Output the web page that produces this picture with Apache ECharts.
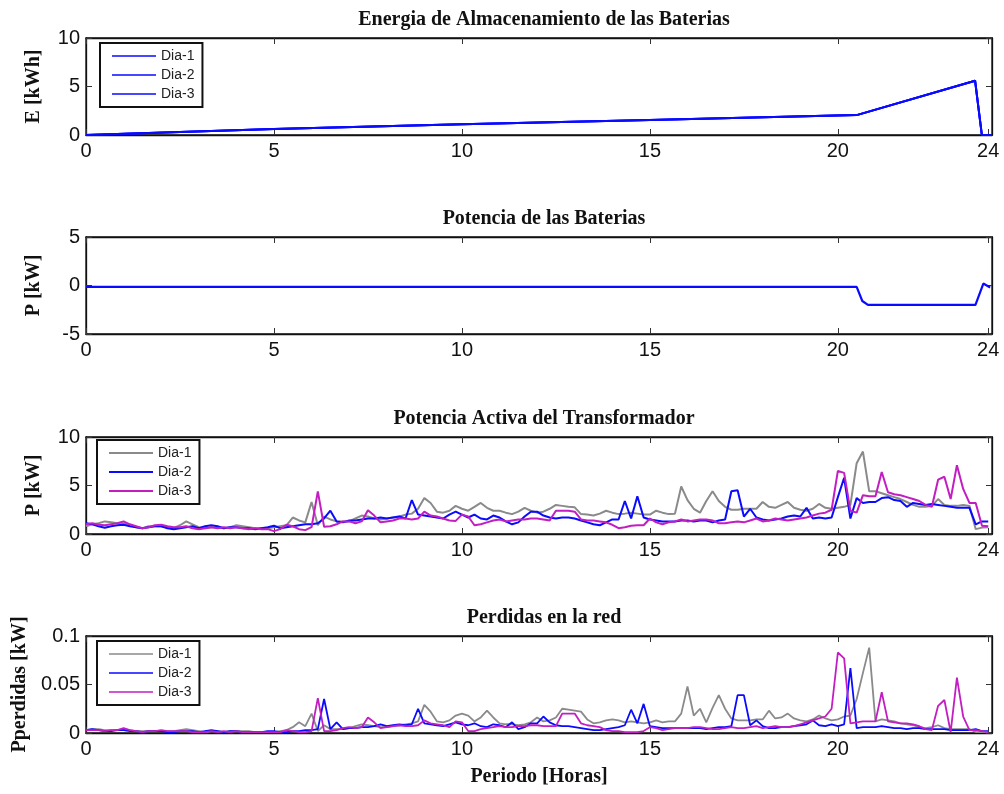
<!DOCTYPE html>
<html><head><meta charset="utf-8">
<script src="https://cdn.jsdelivr.net/npm/echarts@6/dist/echarts.min.js"></script>
<style>html,body{margin:0;padding:0;background:#fff}#c{width:1004px;height:794px}</style>
</head><body><div id="c"></div><script>
// ---- data ----
const xTicks = [0, 5, 10, 15, 20, 24];
const seriesNames = ['Dia-1', 'Dia-2', 'Dia-3'];
// Battery energy (same for the three days)
const eHours = [0, 5, 10, 15, 20.5, 23.65, 23.83, 24.1];
const eValues = [0, 0.62, 1.1, 1.55, 2.05, 5.6, 0, 0];
// Battery power
const pHours = [0, 20.5, 20.65, 20.8, 23.66, 23.87, 24.05];
const pValues = [-0.15, -0.15, -1.6, -2.0, -2.0, 0.2, -0.2];
// 10-minute time grid (hours)
const hours = Array.from({length: 145}, (_, i) => i / 6);
// Transformer active power [kW]
const trafoDia1 = [
 0.8,1.0,1.1,1.3,1.2,1.1, 1.1,0.9,0.7,0.6,0.8,0.8, 0.8,0.7,0.6,0.9,1.3,1.0, 0.7,0.6,0.7,0.7,0.6,0.7,
 0.9,0.8,0.7,0.6,0.6,0.6, 0.7,0.8,0.9,1.7,1.4,1.2, 3.3,0.9,1.8,1.5,1.3,1.3, 1.3,1.6,1.9,1.8,1.6,1.5,
 1.6,1.7,1.8,2.0,2.1,2.6, 3.7,3.2,2.3,2.2,2.4,2.9, 2.6,2.4,2.8,3.2,2.7,2.4, 2.4,2.2,2.05,2.3,2.7,2.4,
 2.2,2.3,2.6,3.0,2.9,2.8, 2.75,2.05,2.0,1.9,2.1,2.4, 2.2,2.05,2.1,2.2,2.1,2.0, 2.0,2.4,2.2,2.05,2.1,4.9,
 3.5,2.6,2.2,3.4,4.4,3.4, 2.8,2.5,2.5,2.6,2.6,2.6, 3.3,2.8,2.7,3.0,3.3,2.7, 2.5,2.4,2.6,3.1,2.7,2.6,
 2.7,2.8,3.0,7.3,8.5,4.4, 4.4,4.2,4.0,3.8,3.6,3.3, 3.0,2.8,2.8,2.9,3.6,3.0, 2.9,2.9,3.0,2.9,0.5,0.66,
 0.7];
const trafoDia2 = [
 1.1,1.0,0.8,0.65,0.8,0.9, 0.95,0.8,0.7,0.6,0.7,0.8, 0.8,0.6,0.5,0.6,0.7,0.8, 0.6,0.8,0.9,0.8,0.6,0.7,
 0.7,0.6,0.6,0.5,0.6,0.7, 0.85,0.6,0.7,0.8,0.9,1.0, 1.0,1.1,1.6,2.4,1.3,1.2, 1.4,1.4,1.5,1.6,1.6,1.7,
 1.6,1.7,1.8,1.6,3.5,2.0, 1.9,1.8,1.7,1.6,2.0,2.3, 2.0,1.7,2.0,1.6,1.5,1.9, 1.7,1.3,1.0,1.2,1.8,2.3,
 2.3,1.9,1.7,1.6,1.7,1.7, 1.6,1.4,1.2,1.0,0.9,1.2, 1.5,1.5,3.4,1.6,3.9,1.7, 1.5,1.4,1.3,1.3,1.3,1.4,
 1.4,1.3,1.4,1.4,1.2,1.4, 1.5,4.4,4.5,1.8,2.6,1.7, 1.5,1.4,1.5,1.6,1.8,1.9, 1.8,2.7,1.6,1.7,1.6,1.7,
 3.8,5.8,1.6,3.7,3.2,3.3, 3.3,3.7,3.8,3.5,3.4,2.8, 3.2,3.1,3.0,3.1,3.0,2.9, 2.8,2.7,2.7,2.7,1.0,1.3,
 1.3];
const trafoDia3 = [
 1.0,1.1,0.95,0.9,1.0,1.1, 1.3,1.0,0.8,0.6,0.7,0.9, 0.95,0.8,0.7,0.7,0.8,0.6, 0.5,0.6,0.7,0.6,0.7,0.6,
 0.7,0.6,0.5,0.6,0.5,0.5, 0.3,0.5,0.95,0.8,0.5,0.4, 0.7,4.4,0.75,0.8,1.0,1.3, 1.3,1.1,1.3,2.45,1.9,1.2,
 1.3,1.4,1.6,1.6,1.5,1.6, 2.3,1.9,1.8,1.6,1.4,1.35, 2.0,1.8,0.9,1.0,1.2,1.4, 1.5,1.3,1.4,1.5,1.5,1.6,
 1.6,1.5,1.4,2.4,2.4,2.4, 2.3,1.5,1.4,1.4,1.3,1.2, 0.95,0.6,0.7,0.85,0.9,0.9, 1.6,1.2,1.0,1.2,1.3,1.5,
 1.3,1.4,1.5,1.5,1.4,1.1, 1.1,1.2,1.3,1.2,1.4,1.6, 1.3,1.4,1.6,1.5,1.4,1.5, 1.6,1.7,1.9,2.1,2.2,2.5,
 6.5,6.3,2.4,2.2,4.0,3.9, 3.9,6.4,4.3,4.1,4.0,3.8, 3.6,3.4,3.0,2.8,5.6,5.9, 3.6,7.1,4.65,3.2,3.2,0.85,
 0.8];
// Network losses [kW]
const lossDia1 = [
 .003,.004,.004,.003,.003,.003, .004,.003,.002,.002,.002,.002, .002,.002,.002,.003,.004,.003, .002,.001,.002,.002,.001,.002,
 .002,.002,.002,.001,.001,.001, .001,.002,.003,.006,.011,.007, .02,.002,.008,.004,.004,.004, .005,.007,.009,.008,.007,.006,
 .006,.007,.008,.009,.01,.012, .029,.022,.012,.011,.013,.018, .02,.018,.012,.016,.023,.016, .01,.009,.009,.008,.009,.011,
 .016,.012,.013,.016,.025,.024, .023,.022,.014,.01,.011,.013, .014,.013,.011,.012,.011,.01, .011,.013,.011,.012,.012,.02,
 .048,.018,.025,.011,.026,.039, .025,.015,.013,.013,.013,.014, .014,.023,.015,.016,.02,.015, .013,.012,.014,.018,.015,.013,
 .014,.017,.018,.035,.062,.088, .012,.014,.013,.012,.01,.009, .008,.006,.005,.006,.008,.005, .004,.004,.004,.004,.001,.001,
 .001];
const lossDia2 = [
 .003,.004,.003,.002,.002,.003, .003,.002,.002,.001,.002,.002, .002,.001,.001,.002,.002,.002, .001,.002,.003,.002,.001,.002,
 .002,.001,.001,.001,.001,.002, .002,.001,.001,.002,.002,.003, .003,.004,.035,.004,.011,.004, .005,.005,.006,.006,.007,.009,
 .007,.008,.009,.008,.009,.025, .01,.009,.008,.007,.009,.011, .009,.008,.01,.007,.006,.009, .008,.006,.011,.004,.006,.01,
 .01,.017,.011,.008,.007,.007, .006,.005,.004,.003,.003,.004, .005,.006,.008,.024,.01,.03, .007,.006,.005,.005,.005,.005,
 .005,.005,.005,.004,.005,.006, .006,.007,.039,.039,.008,.013, .007,.005,.005,.006,.006,.007, .008,.009,.013,.008,.007,.009,
 .007,.009,.067,.005,.006,.006, .006,.007,.006,.005,.005,.004, .005,.005,.004,.004,.004,.004, .003,.003,.003,.003,.004,.002,
 .002];
const lossDia3 = [
 .003,.003,.003,.002,.003,.003, .005,.003,.002,.001,.002,.002, .003,.002,.002,.002,.002,.001, .001,.001,.002,.001,.002,.001,
 .002,.001,.001,.001,.001,.001, .001,.001,.003,.002,.001,.001, .002,.036,.002,.002,.003,.005, .006,.005,.006,.016,.011,.005,
 .006,.007,.008,.007,.007,.008, .013,.01,.009,.008,.006,.012, .011,.002,.002,.004,.005,.006, .007,.006,.006,.007,.007,.008,
 .008,.007,.007,.007,.02,.02, .02,.01,.008,.007,.006,.003, .002,.002,.001,.001,.001,.002, .006,.005,.003,.004,.005,.005,
 .005,.006,.006,.005,.004,.004, .005,.006,.005,.005,.006,.007, .005,.006,.007,.006,.006,.007, .009,.011,.013,.015,.017,.025,
 .083,.077,.01,.011,.012,.012, .012,.042,.012,.011,.01,.01, .009,.007,.004,.003,.028,.034, .001,.057,.017,.003,.003,.002,
 .001];

// ---- layout ----
const GRID_TOPS = [38, 237, 437, 636];
const GRID_H = 97;
const LEFT = 86, WIDTH = 906;
const yRanges = [[0, 10, 5], [-5, 5, 5], [0, 10, 5], [0, 0.1, 0.05]];
const yNames = ['E [kWh]', 'P [kW]', 'P [kW]', 'Pperdidas [kW]'];
const titles = ['Energia de Almacenamiento de las Baterias', 'Potencia de las Baterias', 'Potencia Activa del Transformador', 'Perdidas en la red'];
const COLORS = {gray: '#8a8a8a', blue: '#0a0aff', mag: '#c21ec2'};

const serifBold = {fontFamily: '"Liberation Serif", "Times New Roman", serif', fontWeight: 'bold', fontSize: 20, color: '#111'};
const sans = '"Liberation Sans", Arial, sans-serif';

const grids = [], xAxes = [], yAxes = [], series = [], titleArr = [], legends = [];
GRID_TOPS.forEach((top, g) => {
  grids.push({left: LEFT, top: top, width: WIDTH, height: GRID_H, show: true, borderColor: '#111', borderWidth: 1.3, backgroundColor: 'transparent'});
  const isLast = g === 3;
  xAxes.push({
    type: 'value', gridIndex: g, min: 0, max: 24.1, position: 'bottom',
    axisLine: {onZero: false, lineStyle: {color: '#111', width: 1.3}},
    axisTick: {inside: true, length: 6, customValues: xTicks, lineStyle: {color: '#333'}},
    axisLabel: {customValues: xTicks, fontFamily: sans, fontSize: 20, color: '#111', margin: 6},
    splitLine: {show: false},
    name: isLast ? 'Periodo [Horas]' : '', nameLocation: 'middle', nameGap: 34,
    nameTextStyle: serifBold
  });
  xAxes.push({
    type: 'value', gridIndex: g, min: 0, max: 24.1, position: 'top',
    axisLine: {onZero: false, lineStyle: {color: '#111', width: 1.3}},
    axisTick: {inside: true, length: 6, customValues: xTicks, lineStyle: {color: '#333'}},
    axisLabel: {show: false}, splitLine: {show: false}
  });
  const [mn, mx, iv] = yRanges[g];
  yAxes.push({
    type: 'value', gridIndex: g, min: mn, max: mx, interval: iv, position: 'left',
    axisLine: {show: true, onZero: false, lineStyle: {color: '#111', width: 1.3}},
    axisTick: {show: true, inside: true, length: 6, lineStyle: {color: '#333'}},
    axisLabel: {fontFamily: sans, fontSize: 20, color: '#111', margin: 6},
    splitLine: {show: false},
    name: yNames[g], nameLocation: 'middle', nameRotate: 90, nameGap: g === 3 ? 44 : 42,
    nameTextStyle: serifBold
  });
  yAxes.push({
    type: 'value', gridIndex: g, min: mn, max: mx, interval: iv, position: 'right',
    axisLine: {show: true, onZero: false, lineStyle: {color: '#111', width: 1.3}},
    axisTick: {show: true, inside: true, length: 6, lineStyle: {color: '#333'}},
    axisLabel: {show: false}, splitLine: {show: false}
  });
  titleArr.push({text: titles[g], left: 539, top: top - 33, textAlign: 'center', textStyle: serifBold});
});

function pairs(xs, ys) { return xs.map((x, i) => [x, ys[i]]); }
function line(name, g, data, color, width) {
  return {type: 'line', name: name, xAxisIndex: 2 * g, yAxisIndex: 2 * g, data: data,
    symbol: 'none', lineStyle: {color: color, width: width}, itemStyle: {color: color},
    animation: false, clip: true, z: 3};
}
// plot 1
seriesNames.forEach(n => series.push(line(n, 0, pairs(eHours, eValues), COLORS.blue, 2)));
// plot 2
series.push(line('P-bat', 1, pairs(pHours, pValues), COLORS.blue, 2.2));
// plot 3
series.push(line('Dia-1', 2, pairs(hours, trafoDia1), COLORS.gray, 2));
series.push(line('Dia-2', 2, pairs(hours, trafoDia2), COLORS.blue, 2));
series.push(line('Dia-3', 2, pairs(hours, trafoDia3), COLORS.mag, 2));
// plot 4
series.push(line('Dia-1', 3, pairs(hours, lossDia1), COLORS.gray, 1.8));
series.push(line('Dia-2', 3, pairs(hours, lossDia2), COLORS.blue, 1.8));
series.push(line('Dia-3', 3, pairs(hours, lossDia3), COLORS.mag, 1.8));

function legend(left, top, colors, h) {
  return {
    show: true, left: left, top: top, orient: 'vertical', itemGap: 5, itemWidth: 44, itemHeight: h,
    padding: [6, 8, 6, 12], borderColor: '#111', borderWidth: 2, backgroundColor: '#fff',
    textStyle: {fontFamily: sans, fontSize: 14, color: '#222', lineHeight: 14},
    z: 10,
    data: seriesNames.map((n, i) => ({name: n, icon: 'rect', itemStyle: {color: colors[i], borderWidth: 0}}))
  };
}
legends.push(legend(100, 43, [COLORS.blue, COLORS.blue, COLORS.blue], 1.5));
legends.push(legend(97, 440, [COLORS.gray, COLORS.blue, COLORS.mag], 2));
legends.push(legend(97, 641, [COLORS.gray, COLORS.blue, COLORS.mag], 1.6));

const chart = echarts.init(document.getElementById('c'), null, {renderer: 'canvas'});
chart.setOption({
  animation: false, backgroundColor: '#fff',
  title: titleArr, grid: grids, xAxis: xAxes, yAxis: yAxes, legend: legends, series: series
});
</script></body></html>
